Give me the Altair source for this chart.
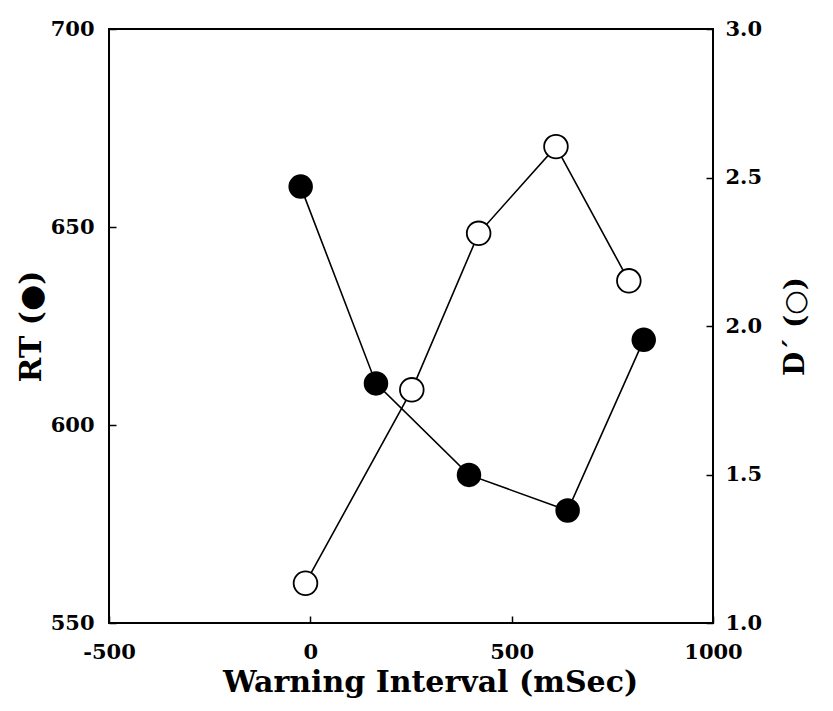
import altair as alt
import pandas as pd

rt_x = [-24, 163, 394, 639, 828]
rt_y = [660.2, 610.5, 587.4, 578.4, 621.5]
d_x = [-12, 252, 418, 610, 791]
d_y = [1.134, 1.785, 2.312, 2.604, 2.152]

x_ticks = [-500, 0, 500, 1000]
rt_ticks = [550, 600, 650, 700]
d_ticks = [1.0, 1.5, 2.0, 2.5, 3.0]

df_rt = pd.DataFrame({"x": rt_x, "y": rt_y})
df_d = pd.DataFrame({"x": d_x, "y": d_y})

FONT = "DejaVu Serif"

x_enc = alt.X(
    "x:Q",
    scale=alt.Scale(domain=[-500, 1000], nice=False, zero=False),
    axis=alt.Axis(
        values=x_ticks, labelExpr="datum.value + ''", title="Warning Interval (mSec)",
        offset=-7, tickSize=7, domain=False, grid=False, labelFlush=False,
        labelPadding=18, titlePadding=5, titleX=321,
        labelFont=FONT, labelFontWeight="bold", labelFontSize=21,
        titleFont=FONT, titleFontWeight="bold", titleFontSize=30,
        labelColor="black", titleColor="black", tickColor="black", tickWidth=1.5,
    ),
)

rt_axis = alt.Axis(
    values=rt_ticks, format="d", title="RT  (●)", orient="left",
    offset=-7, tickSize=7, domain=False, grid=False,
    labelPadding=15, titlePadding=4,
    labelFont=FONT, labelFontWeight="bold", labelFontSize=21,
    titleFont=FONT, titleFontWeight="bold", titleFontSize=30,
    labelColor="black", titleColor="black", tickColor="black", tickWidth=1.5,
)
d_axis = alt.Axis(
    values=d_ticks, format=".1f", title="D´  (○)", orient="right",
    offset=-7, tickSize=7, domain=False, grid=False,
    labelPadding=12, titlePadding=20, titleAngle=270, titleBaseline="top",
    labelFont=FONT, labelFontWeight="bold", labelFontSize=21,
    titleFont=FONT, titleFontWeight="bold", titleFontSize=28,
    labelColor="black", titleColor="black", tickColor="black", tickWidth=1.5,
)

rt_scale = alt.Scale(domain=[550, 700], nice=False, zero=False)
d_scale = alt.Scale(domain=[1.0, 3.0], nice=False, zero=False)

rt_line = alt.Chart(df_rt).mark_line(color="black", strokeWidth=1.6).encode(
    x=x_enc, y=alt.Y("y:Q", scale=rt_scale, axis=rt_axis)
)
d_line = alt.Chart(df_d).mark_line(color="black", strokeWidth=1.6).encode(
    x=x_enc, y=alt.Y("y:Q", scale=d_scale, axis=d_axis)
)
d_pts = alt.Chart(df_d).mark_point(
    shape="circle", filled=True, fill="white", stroke="black", strokeWidth=1.8,
    size=560, opacity=1,
).encode(x=x_enc, y=alt.Y("y:Q", scale=d_scale, axis=None))
rt_pts = alt.Chart(df_rt).mark_point(
    shape="circle", filled=True, color="black", size=600, opacity=1,
).encode(x=x_enc, y=alt.Y("y:Q", scale=rt_scale, axis=None))

chart = (
    alt.layer(rt_line, d_line, d_pts, rt_pts)
    .resolve_scale(y="independent")
    .properties(
        width=604, height=594,
        autosize=alt.AutoSizeParams(type="none"),
        padding={"left": 101, "top": 21, "right": 104, "bottom": 80},
        background="white",
    )
    .configure_view(stroke="black", strokeWidth=2)
)

chart.save("out.html", embed_options={"renderer": "svg", "actions": False})
